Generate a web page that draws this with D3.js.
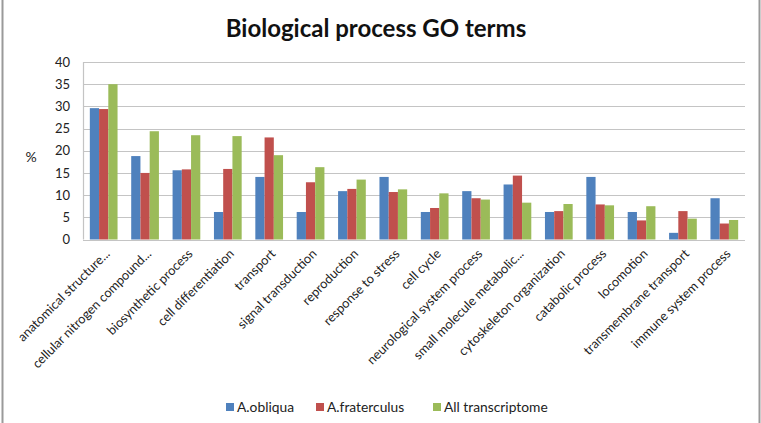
<!DOCTYPE html>
<html><head><meta charset="utf-8">
<script src="https://cdn.jsdelivr.net/npm/d3@7"></script>
<style>body{margin:0;background:#fff}svg{display:block}text{font-family:Lato,"Open Sans",sans-serif}</style>
</head><body><svg id="c" width="761" height="423"></svg>
<script>
const categories = ["anatomical structure...","cellular nitrogen compound...","biosynthetic process","cell differentiation","transport","signal transduction","reproduction","response to stress","cell cycle","neurological system process","small molecule metabolic...","cytoskeleton organization","catabolic process","locomotion","transmembrane transport","immune system process"];
const seriesNames = ["A.obliqua","A.fraterculus","All transcriptome"];
const obliqua = [29.6,18.8,15.6,6.2,14.1,6.2,10.9,14.1,6.2,10.9,12.4,6.2,14.1,6.2,1.5,9.3];
const fraterculus = [29.4,15.0,15.8,15.9,23.0,12.9,11.4,10.7,7.1,9.3,14.4,6.4,7.9,4.3,6.4,3.6];
const allTranscriptome = [35.0,24.4,23.5,23.3,19.0,16.3,13.5,11.3,10.4,9.0,8.3,8.0,7.7,7.5,4.7,4.4];
const yTicks = [0,5,10,15,20,25,30,35,40];
const colors = ["#4F81BD","#C0504D","#9BBB59"];
const series = [obliqua, fraterculus, allTranscriptome];

const svg = d3.select("#c");
// frame
svg.append("line").attr("x1",2.5).attr("x2",2.5).attr("y1",0).attr("y2",423).attr("stroke","#9a9a9a").attr("stroke-width",2);
svg.append("line").attr("x1",759.5).attr("x2",759.5).attr("y1",0).attr("y2",423).attr("stroke","#9a9a9a").attr("stroke-width",2);

const L=83, R=745, T=62, B=239.5;
const x = d3.scaleBand().domain(categories).range([L,R]).paddingInner(0.33).paddingOuter(0.165);
const xs = d3.scaleBand().domain(seriesNames).range([0,x.bandwidth()]);
const y = d3.scaleLinear().domain([0,40]).range([B,T]);

// gridlines
svg.append("g").selectAll("line").data(yTicks).join("line")
  .attr("x1",L).attr("x2",R).attr("y1",d=>Math.round(y(d))+0.5).attr("y2",d=>Math.round(y(d))+0.5)
  .attr("stroke","#c4c4c4").attr("stroke-width",1.2);
svg.append("line").attr("x1",L+0.5).attr("x2",L+0.5).attr("y1",T).attr("y2",B).attr("stroke","#c4c4c4").attr("stroke-width",1.2);

// y axis
const ya = svg.append("g").attr("transform",`translate(${L},0)`).call(d3.axisLeft(y).tickValues(yTicks).tickSize(0).tickPadding(13));
ya.select(".domain").remove();
ya.selectAll("text").attr("font-size",13).attr("fill","#222").style("font-family","Lato,sans-serif");

svg.append("text").attr("x",31).attr("y",162).attr("text-anchor","middle").attr("font-size",14).attr("fill","#222").text("%");

// bars
const g = svg.append("g");
seriesNames.forEach((s,i)=>{
  g.append("g").selectAll("rect").data(series[i]).join("rect")
    .attr("x",(d,j)=>x(categories[j])+xs(s))
    .attr("width",xs.bandwidth())
    .attr("y",d=>y(d)).attr("height",d=>y(0)-y(d))
    .attr("fill",colors[i]);
});

// x labels
const xa = svg.append("g").attr("transform",`translate(0,${B})`).call(d3.axisBottom(x).tickSize(0));
xa.select(".domain").remove();
xa.selectAll("text")
  .attr("font-size",12.8).attr("fill","#222").style("font-family","Lato,sans-serif")
  .attr("text-anchor","end").attr("dy",0).attr("y",0)
  .attr("transform","translate(7,15) rotate(-45)");

// title
svg.append("text").attr("x",376).attr("y",37).attr("text-anchor","middle")
  .attr("font-size",24).attr("font-weight","bold").attr("fill","#111").text("Biological process GO terms");

// legend
const legX = [226,316,433];
const lg = svg.append("g");
seriesNames.forEach((s,i)=>{
  lg.append("rect").attr("x",legX[i]).attr("y",403).attr("width",8).attr("height",8).attr("fill",colors[i]);
  lg.append("text").attr("x",legX[i]+11).attr("y",412).attr("font-size",13.8).attr("fill","#222").text(s);
});
</script></body></html>
